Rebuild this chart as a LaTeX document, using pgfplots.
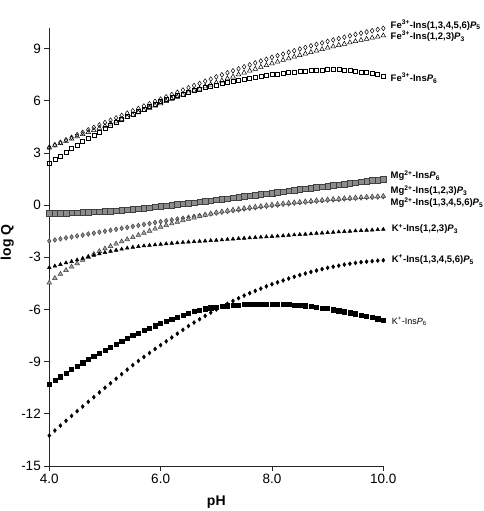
\documentclass[border=0pt]{standalone}
\usepackage{pgfplots}
\usepackage{pgfplotstable}
\pgfplotsset{compat=1.18}
\usepackage{fontspec}
\setmainfont{Liberation Sans}
\definecolor{mggrey}{HTML}{8C8C8C}
\definecolor{mgedge}{HTML}{404040}
\pgfplotstableread{
pH  A     B     C     D     E     F     G     H      I
4.0 3.33  3.30  2.41  -0.47 -2.06 -4.46 -3.59 -13.25 -10.30
4.1 3.47  3.43  2.63  -0.46 -2.00 -4.20 -3.50 -12.96 -10.08
4.2 3.61  3.56  2.84  -0.46 -1.94 -3.96 -3.41 -12.68 -9.87
4.3 3.76  3.69  3.04  -0.45 -1.88 -3.74 -3.32 -12.40 -9.66
4.4 3.90  3.82  3.25  -0.44 -1.83 -3.54 -3.24 -12.12 -9.45
4.5 4.05  3.95  3.45  -0.43 -1.77 -3.35 -3.15 -11.85 -9.25
4.6 4.19  4.07  3.65  -0.41 -1.72 -3.16 -3.06 -11.58 -9.06
4.7 4.33  4.19  3.84  -0.40 -1.66 -2.98 -2.97 -11.31 -8.88
4.8 4.47  4.31  4.03  -0.39 -1.61 -2.81 -2.88 -11.04 -8.70
4.9 4.61  4.43  4.22  -0.37 -1.55 -2.65 -2.80 -10.77 -8.52
5.0 4.75  4.55  4.40  -0.36 -1.50 -2.50 -2.72 -10.50 -8.35
5.1 4.89  4.68  4.58  -0.34 -1.44 -2.36 -2.65 -10.24 -8.18
5.2 5.02  4.81  4.76  -0.31 -1.39 -2.22 -2.59 -9.98  -8.01
5.3 5.16  4.94  4.93  -0.28 -1.33 -2.09 -2.53 -9.72  -7.84
5.4 5.29  5.07  5.09  -0.26 -1.28 -1.97 -2.47 -9.46  -7.67
5.5 5.43  5.20  5.25  -0.23 -1.22 -1.85 -2.42 -9.20  -7.50
5.6 5.56  5.33  5.40  -0.20 -1.17 -1.72 -2.38 -8.96  -7.35
5.7 5.70  5.46  5.54  -0.17 -1.11 -1.60 -2.34 -8.73  -7.21
5.8 5.83  5.59  5.68  -0.14 -1.06 -1.48 -2.31 -8.50  -7.07
5.9 5.97  5.72  5.82  -0.10 -1.00 -1.36 -2.28 -8.27  -6.93
6.0 6.10  5.85  5.95  -0.07 -0.95 -1.25 -2.25 -8.05  -6.80
6.1 6.23  5.97  6.07  -0.03 -0.90 -1.15 -2.22 -7.83  -6.67
6.2 6.36  6.10  6.19  0.00  -0.85 -1.06 -2.19 -7.61  -6.55
6.3 6.49  6.22  6.30  0.04  -0.80 -0.97 -2.17 -7.39  -6.43
6.4 6.62  6.35  6.40  0.07  -0.75 -0.88 -2.14 -7.17  -6.31
6.5 6.75  6.47  6.50  0.11  -0.70 -0.80 -2.12 -6.95  -6.20
6.6 6.88  6.59  6.59  0.15  -0.65 -0.72 -2.10 -6.75  -6.11
6.7 7.00  6.70  6.68  0.19  -0.60 -0.64 -2.08 -6.56  -6.03
6.8 7.13  6.82  6.76  0.22  -0.55 -0.56 -2.06 -6.37  -5.96
6.9 7.25  6.93  6.84  0.26  -0.50 -0.49 -2.04 -6.18  -5.90
7.0 7.38  7.05  6.92  0.30  -0.45 -0.42 -2.02 -6.00  -5.85
7.1 7.50  7.16  6.99  0.34  -0.40 -0.37 -2.00 -5.83  -5.81
7.2 7.61  7.28  7.06  0.38  -0.36 -0.32 -1.97 -5.67  -5.78
7.3 7.73  7.39  7.13  0.42  -0.31 -0.27 -1.95 -5.51  -5.76
7.4 7.84  7.51  7.19  0.46  -0.27 -0.23 -1.92 -5.35  -5.74
7.5 7.96  7.62  7.25  0.50  -0.22 -0.18 -1.90 -5.20  -5.72
7.6 8.07  7.73  7.31  0.54  -0.18 -0.14 -1.88 -5.06  -5.71
7.7 8.18  7.83  7.36  0.58  -0.14 -0.10 -1.86 -4.93  -5.70
7.8 8.29  7.94  7.41  0.62  -0.10 -0.06 -1.84 -4.80  -5.69
7.9 8.39  8.04  7.46  0.66  -0.06 -0.02 -1.82 -4.67  -5.68
8.0 8.50  8.15  7.50  0.70  -0.02 0.02  -1.80 -4.55  -5.68
8.1 8.60  8.24  7.54  0.74  0.01  0.05  -1.78 -4.44  -5.69
8.2 8.69  8.34  7.58  0.78  0.05  0.09  -1.76 -4.33  -5.70
8.3 8.79  8.43  7.62  0.82  0.08  0.12  -1.73 -4.22  -5.72
8.4 8.88  8.53  7.65  0.86  0.12  0.15  -1.71 -4.12  -5.74
8.5 8.98  8.62  7.68  0.90  0.15  0.18  -1.69 -4.02  -5.76
8.6 9.07  8.71  7.71  0.94  0.18  0.21  -1.67 -3.93  -5.79
8.7 9.16  8.79  7.74  0.98  0.21  0.24  -1.65 -3.84  -5.83
8.8 9.25  8.88  7.76  1.02  0.23  0.27  -1.62 -3.76  -5.87
8.9 9.33  8.96  7.78  1.06  0.26  0.29  -1.60 -3.68  -5.91
9.0 9.42  9.05  7.80  1.10  0.29  0.32  -1.58 -3.60  -5.95
9.1 9.50  9.12  7.80  1.14  0.31  0.34  -1.56 -3.54  -6.01
9.2 9.58  9.20  7.79  1.18  0.33  0.36  -1.54 -3.48  -6.07
9.3 9.66  9.27  7.77  1.22  0.36  0.39  -1.52 -3.42  -6.13
9.4 9.74  9.35  7.75  1.26  0.38  0.41  -1.50 -3.37  -6.19
9.5 9.82  9.42  7.72  1.30  0.40  0.43  -1.48 -3.32  -6.25
9.6 9.89  9.49  7.67  1.34  0.42  0.45  -1.46 -3.28  -6.32
9.7 9.96  9.55  7.62  1.38  0.44  0.47  -1.44 -3.25  -6.39
9.8 10.03 9.62  7.56  1.42  0.45  0.49  -1.43 -3.22  -6.46
9.9 10.10 9.68  7.50  1.45  0.47  0.50  -1.41 -3.19  -6.53
10.0 10.17 9.75 7.43  1.49  0.49  0.52  -1.39 -3.17  -6.60
}\datatable
\begin{document}
\begin{tikzpicture}
\path[use as bounding box] (-49.3pt,-45pt) rectangle (434.7pt,466pt);
\begin{axis}[
  at={(0,0)}, anchor=south west,
  scale only axis, width=334pt, height=438.2pt,
  xmin=4, xmax=10, ymin=-15, ymax=10.2,
  axis x line*=bottom, axis y line*=left,
  axis line style={line width=0.8pt, color=black!85},
  xtick={4,6,8,10}, ytick={-15,-12,...,9},
  minor xtick={}, tick align=outside, major tick length=5pt,
  tick style={line width=0.7pt, color=black!85},
  xticklabel style={/pgf/number format/.cd, fixed, fixed zerofill, precision=1},
  /pgf/number format/assume math mode=true,
  tick label style={font=\fontsize{13.5}{15}\selectfont},
  xlabel={\textbf{pH}}, ylabel={\textbf{log Q}},
  label style={font=\fontsize{14}{16}\selectfont\bfseries},
  xlabel style={at={(axis description cs:0.5,-0.0815)}, anchor=center},
  ylabel style={at={(axis description cs:-0.126,0.51)}, anchor=center, rotate=0},
  clip=false,
  every axis plot/.append style={only marks, line width=0.5pt},
]
% Fe
\addplot[mark=diamond, mark size=2.4pt, draw=black, mark options={fill=white}] table[x=pH,y=A]{\datatable};
\addplot[mark=triangle, mark size=2.7pt, draw=black, mark options={fill=white}] table[x=pH,y=B]{\datatable};
\addplot[mark=square, mark size=2.0pt, draw=black, mark options={fill=white}] table[x=pH,y=C]{\datatable};
% Mg
\addplot[mark=square*, mark size=2.8pt, draw=mgedge, fill=mggrey] table[x=pH,y=D]{\datatable};
\addplot[mark=diamond*, mark size=2.4pt, draw=mgedge, fill=mggrey] table[x=pH,y=E]{\datatable};
\addplot[mark=triangle*, mark size=2.7pt, draw=mgedge, fill=mggrey!80] table[x=pH,y=F]{\datatable};
% K
\addplot[mark=triangle*, mark size=2.1pt, draw=black, fill=black] table[x=pH,y=G]{\datatable};
\addplot[mark=diamond*, mark size=2.0pt, draw=black, fill=black] table[x=pH,y=H]{\datatable};
\addplot[mark=square*, mark size=2.1pt, draw=black, fill=black] table[x=pH,y=I]{\datatable};
% labels
\begin{scope}[every node/.style={anchor=west, inner sep=0pt, font=\fontsize{9.5}{11}\selectfont\bfseries}]
\node at (axis cs:10.13,10.36) {Fe\textsuperscript{3+}-Ins(1,3,4,5,6)\textit{P}\textsubscript{5}};
\node at (axis cs:10.13,9.70) {Fe\textsuperscript{3+}-Ins(1,2,3)\textit{P}\textsubscript{3}};
\node at (axis cs:10.13,7.31) {Fe\textsuperscript{3+}-Ins\textit{P}\textsubscript{6}};
\node at (axis cs:10.13,1.70) {Mg\textsuperscript{2+}-Ins\textit{P}\textsubscript{6}};
\node at (axis cs:10.13,0.83) {Mg\textsuperscript{2+}-Ins(1,2,3)\textit{P}\textsubscript{3}};
\node at (axis cs:10.13,0.14) {Mg\textsuperscript{2+}-Ins(1,3,4,5,6)\textit{P}\textsubscript{5}};
\node at (axis cs:10.15,-1.37) {K\textsuperscript{+}-Ins(1,2,3)\textit{P}\textsubscript{3}};
\node at (axis cs:10.15,-3.15) {K\textsuperscript{+}-Ins(1,3,4,5,6)\textit{P}\textsubscript{5}};
\node[font=\fontsize{9}{10}\selectfont] at (axis cs:10.15,-6.70) {K\textsuperscript{+}-Ins\textit{P}\textsubscript{6}};
\end{scope}
\end{axis}
\end{tikzpicture}
\end{document}
